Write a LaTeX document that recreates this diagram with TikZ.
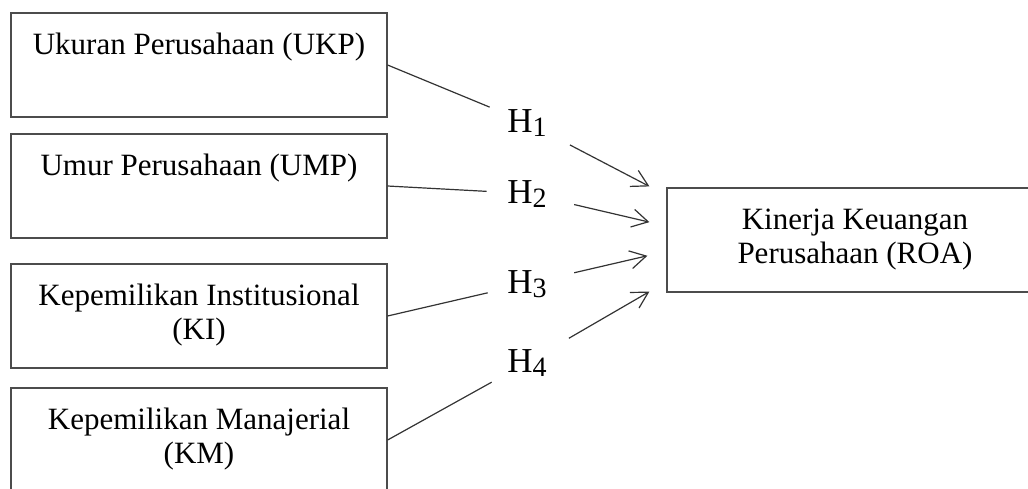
\documentclass[tikz,border=0pt]{standalone}
\usepackage{fontspec}
\setmainfont{Liberation Serif}
\usetikzlibrary{arrows.meta,calc}

\tikzset{
    var/.style={draw=black!70, line width=0.6pt, minimum width=188pt, minimum height=52pt,
        inner sep=0pt, align=center, font=\fontsize{15.5}{17}\selectfont},
    hyp/.style={circle, minimum size=40pt, inner sep=0pt, anchor=base,
        font=\fontsize{17.5}{20}\selectfont},
    link/.style={draw=black!80, line width=0.6pt},
    effect/.style={link, -{Straight Barb[length=8pt,width=9pt]}, shorten <=4pt}
}
\newcommand{\hyplabel}[1]{H{\fontsize{14}{14}\selectfont\raisebox{-2pt}{#1}}}

\begin{document}
\begin{tikzpicture}[x=0.5pt,y=-0.5pt]
    \useasboundingbox (0,0) rectangle (1028,488);
    \clip (0,0) rectangle (1028,488);
    %variabel
    \node[var] (ukp) at (199,65) {Ukuran Perusahaan (UKP)\strut\\\strut};
    \node[var] (ump) at (199,186) {Umur Perusahaan (UMP)\strut\\\strut};
    \node[var] (ki) at (199,316) {Kepemilikan Institusional\strut\\(KI)\strut};
    \node[var] (km) at (199,440) {Kepemilikan Manajerial\strut\\(KM)\strut};
    \node[var] (roa) at (855,240) {Kinerja Keuangan\strut\\Perusahaan (ROA)\strut};
    %hipotesis
    \node[hyp] (h1) at (527,132) {\hyplabel{1}};
    \node[hyp] (h2) at (527,203) {\hyplabel{2}};
    \node[hyp] (h3) at (527,293) {\hyplabel{3}};
    \node[hyp] (h4) at (527,372) {\hyplabel{4}};
    \coordinate (t1) at ($(roa.north west)+(-17,-1)$);
    \coordinate (t2) at ($(roa.north west)!0.33!(roa.south west)+(-17,0)$);
    \coordinate (t3) at ($(roa.north west)!0.65!(roa.south west)+(-19,0)$);
    \coordinate (t4) at ($(roa.south west)+(-17,-1)$);
    \draw[link] (ukp.east) -- (h1);
    \draw[link] (ump.east) -- (h2);
    \draw[link] (ki.east) -- (h3);
    \draw[link] (km.east) -- (h4);
    \draw[effect] (h1) -- (t1);
    \draw[effect] (h2) -- (t2);
    \draw[effect] (h3) -- (t3);
    \draw[effect] (h4) -- (t4);
\end{tikzpicture}
\end{document}
